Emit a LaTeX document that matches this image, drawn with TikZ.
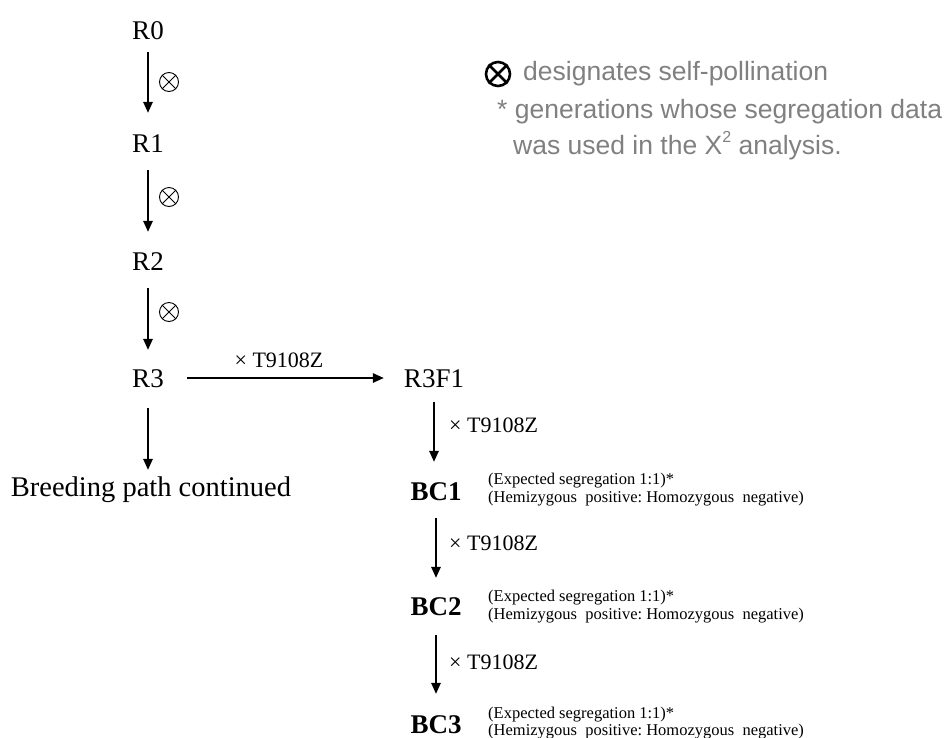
\documentclass[tikz,border=0pt]{standalone}
\usepackage{fontspec}
\setmainfont{Liberation Serif}
\newfontfamily\legendfont{Liberation Sans}
\usetikzlibrary{arrows.meta}
\definecolor{legendgray}{RGB}{128,128,128}
\begin{document}
\begin{tikzpicture}[x=1pt,y=-1pt,
  gen/.style={font=\fontsize{27}{30}\selectfont, inner sep=0pt, text height=18pt, text depth=0pt, anchor=center},
  bcgen/.style={gen, font=\fontsize{27}{30}\selectfont\bfseries},
  arr/.style={line width=1.5pt, -{Triangle[length=11pt,width=9.5pt]}},
  self/.style={circle, draw=black, line width=0.9pt, minimum size=19pt, inner sep=0pt},
  cross/.style={font=\fontsize{22}{24}\selectfont, inner sep=0pt, anchor=west},
  note/.style={font=\fontsize{16.5}{18}\selectfont, inner sep=0pt, anchor=west},
  legend/.style={font=\legendfont\fontsize{26.5}{28}\selectfont, text=legendgray, inner sep=0pt, anchor=west}
]
\useasboundingbox (0,0) rectangle (948,737);

% left column
\node[gen] (R0) at (148,30) {R0};
\node[gen] (R1) at (148,143) {R1};
\node[gen] (R2) at (148,261) {R2};
\node[gen] (R3) at (148,378) {R3};
\node[gen, font=\fontsize{28.5}{30}\selectfont] (BP) at (151,487) {Breeding path continued};

\draw[arr, shorten <=13pt, shorten >=21pt] (R0.south) -- (R1.north);
\draw[arr, shorten <=18pt, shorten >=20pt] (R1.south) -- (R2.north);
\draw[arr, shorten <=18pt, shorten >=19pt] (R2.south) -- (R3.north);
\draw[arr, shorten <=21pt, shorten >=8pt] (R3.south) -- (R3.south |- BP.north);

\foreach \n/\y in {s1/82, s2/197, s3/312}{
  \node[self] (\n) at (169,\y) {};
  \draw[line width=0.9pt] (\n.45) -- (\n.225) (\n.135) -- (\n.315);
}

% right column
\node[gen] (R3F1) at (434,378) {R3F1};
\node[bcgen] (BC1) at (436,491) {BC1};
\node[bcgen] (BC2) at (436,606) {BC2};
\node[bcgen] (BC3) at (436,724) {BC3};

\draw[arr, shorten <=23pt, shorten >=20pt] (R3.east) -- (R3F1.west);
\node[font=\fontsize{22}{24}\selectfont, inner sep=0pt] (x0) at (279,360) {× T9108Z};

\draw[arr, shorten <=15pt, shorten >=20pt] (R3F1.south) -- (R3F1.south |- BC1.north);
\draw[arr, shorten <=18pt, shorten >=19pt] (BC1.south) -- (BC2.north);
\draw[arr, shorten <=20pt, shorten >=21pt] (BC2.south) -- (BC3.north);

\node[cross] (x1) at (449,425) {× T9108Z};
\node[cross] (x2) at (449,543) {× T9108Z};
\node[cross] (x3) at (449,662) {× T9108Z};

\node[note] (e1) at (488,481) {(Expected segregation 1:1)*};
\node[note] (h1) at (488,499) {(Hemizygous\ \ positive:\ Homozygous\ \ negative)};
\node[note] (e2) at (488,598) {(Expected segregation 1:1)*};
\node[note] (h2) at (488,616) {(Hemizygous\ \ positive:\ Homozygous\ \ negative)};
\node[note] (e3) at (488,715) {(Expected segregation 1:1)*};
\node[note] (h3) at (488,732) {(Hemizygous\ \ positive:\ Homozygous\ \ negative)};

% legend
\node[circle, draw=black, line width=2.6pt, minimum size=24pt, inner sep=0pt] (lsym) at (498,74) {};
\draw[line width=2.6pt] (lsym.45) -- (lsym.225) (lsym.135) -- (lsym.315);
\node[legend] (l1) at (523,74) {designates self-pollination};
\node[legend] (l2) at (497,112) {* generations whose segregation data};
\node[legend] (l3) at (513,146) {was used in the X\raisebox{0.85ex}{\fontsize{16}{16}\selectfont 2} analysis.};
\end{tikzpicture}
\end{document}
